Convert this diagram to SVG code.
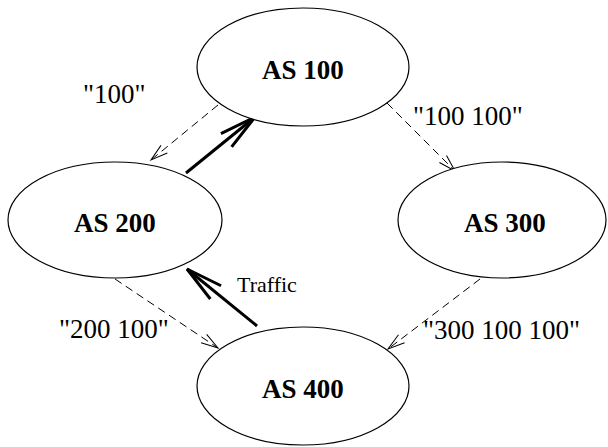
<svg xmlns="http://www.w3.org/2000/svg" width="608" height="447" viewBox="0 0 608 447">
<style>
.node ellipse{fill:#fff;stroke:#000;stroke-width:1.2}
.node text{font-family:"Liberation Serif","Times New Roman",serif;font-weight:bold;font-size:27px;text-anchor:middle;fill:#000}
.lbl{font-family:"Liberation Serif","Times New Roman",serif;font-size:27px;fill:#000}
.traffic{font-size:22px}
.dash{fill:none;stroke:#000;stroke-width:1;stroke-dasharray:8 5}
.thick{fill:none;stroke:#000;stroke-width:3}
</style>
<defs>
<marker id="thin" markerUnits="userSpaceOnUse" viewBox="-20 -8 22 16" refX="0" refY="0" markerWidth="22" markerHeight="16" orient="auto" overflow="visible">
<path d="M-17,-5 L0,0 L-17,5" fill="none" stroke="#000" stroke-width="1"/>
</marker>
<marker id="bold" markerUnits="userSpaceOnUse" viewBox="-40 -12 42 24" refX="0" refY="0" markerWidth="42" markerHeight="24" orient="auto" overflow="visible">
<path d="M-37,-8.5 L0,0 L-37,8.5" fill="none" stroke="#000" stroke-width="3"/>
</marker>
</defs>
<g id="connectors">
<line class="dash" x1="218" y1="105" x2="151" y2="160" marker-end="url(#thin)"/>
<line class="thick" x1="186" y1="173" x2="255" y2="117" marker-end="url(#bold)"/>
<line class="dash" x1="387" y1="103" x2="455" y2="171" marker-end="url(#thin)"/>
<line class="dash" x1="115" y1="279" x2="218" y2="348" marker-end="url(#thin)"/>
<line class="dash" x1="480" y1="279" x2="388" y2="349" marker-end="url(#thin)"/>
<line class="thick" x1="257" y1="326" x2="187" y2="269" marker-end="url(#bold)"/>
</g>
<g id="as100" class="node"><ellipse cx="303" cy="67" rx="106" ry="59"/><text x="303" y="79">AS 100</text></g>
<g id="as200" class="node"><ellipse cx="115" cy="220" rx="107" ry="58"/><text x="115" y="232">AS 200</text></g>
<g id="as300" class="node"><ellipse cx="502" cy="220" rx="104" ry="58"/><text x="505" y="232">AS 300</text></g>
<g id="as400" class="node"><ellipse cx="303" cy="386" rx="106" ry="59"/><text x="303" y="398">AS 400</text></g>
<g id="labels">
<text class="lbl" x="83" y="103">"100"</text>
<text class="lbl" x="413" y="125">"100 100"</text>
<text class="lbl" x="59" y="338">"200 100"</text>
<text class="lbl" x="423" y="339">"300 100 100"</text>
<text class="lbl traffic" x="237" y="292">Traffic</text>
</g>
</svg>
